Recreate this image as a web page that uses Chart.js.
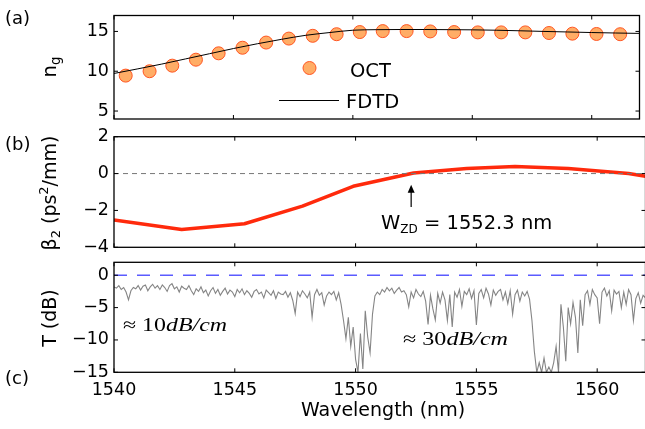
<!DOCTYPE html>
<html>
<head>
<meta charset="utf-8">
<script src="https://cdn.jsdelivr.net/npm/chart.js@4"></script>
<style>
  html, body { margin: 0; padding: 0; background: #fff; }
  #wrap { position: relative; width: 645px; height: 429px; overflow: hidden; background: #fff; }
  #wrap canvas { position: absolute; left: 0; top: 0; }
</style>
</head>
<body>
<div id="wrap">
  <canvas id="panelA" width="647" height="429"></canvas>
  <canvas id="panelB" width="647" height="429"></canvas>
  <canvas id="panelC" width="647" height="429"></canvas>
</div>
<script>
// ---- shared axis ----
const wavelengthTicks = [1540, 1545, 1550, 1555, 1560];

// ---- (a) group index ----
const octWavelength = [1540.49, 1541.49, 1542.44, 1543.43, 1544.38, 1545.38, 1546.37, 1547.32, 1548.32,
  1549.32, 1550.29, 1551.25, 1552.25, 1553.24, 1554.24, 1555.23, 1556.21, 1557.22, 1558.21, 1559.19, 1560.20, 1561.19];
const octNg = [9.45, 10.0, 10.7, 11.45, 12.25, 12.95, 13.6, 14.1, 14.45,
  14.65, 14.92, 15.04, 15.04, 15.0, 14.92, 14.88, 14.88, 14.88, 14.8, 14.72, 14.68, 14.65];
const fdtdWavelength = [1540, 1541, 1542, 1543, 1544, 1545, 1546, 1547, 1548, 1549, 1550, 1551,
  1552, 1553, 1554, 1555, 1556, 1557, 1558, 1559, 1560, 1561, 1562];
const fdtdNg = [9.72, 10.3, 10.9, 11.55, 12.2, 12.85, 13.45, 14.0, 14.5, 14.85, 15.15, 15.22,
  15.24, 15.24, 15.22, 15.2, 15.15, 15.08, 15.0, 14.93, 14.86, 14.8, 14.75];
const ngTicks = [5, 10, 15];

// ---- (b) dispersion ----
const beta2Wavelength = [1540.0, 1542.8, 1545.4, 1547.8, 1549.9, 1552.4, 1554.6, 1556.6, 1558.8, 1561.3, 1562.0];
const beta2Values = [-2.52, -3.03, -2.72, -1.77, -0.69, 0.03, 0.27, 0.38, 0.27, 0.0, -0.15];
const beta2Ticks = [-4, -2, 0, 2];
const zeroDispersionWavelength = 1552.3;

// ---- (c) transmission ----
const transWavelength = [
  1540.0, 1540.1, 1540.2, 1540.3, 1540.4, 1540.5, 1540.6, 1540.7, 1540.8, 1540.9,
  1541.0, 1541.1, 1541.2, 1541.3, 1541.4, 1541.5, 1541.6, 1541.7, 1541.8, 1541.9,
  1542.0, 1542.1, 1542.2, 1542.3, 1542.4, 1542.5, 1542.6, 1542.7, 1542.8, 1542.9,
  1543.0, 1543.1, 1543.2, 1543.3, 1543.4, 1543.5, 1543.6, 1543.7, 1543.8, 1543.9,
  1544.0, 1544.1, 1544.2, 1544.3, 1544.4, 1544.5, 1544.6, 1544.7, 1544.8, 1544.9,
  1545.0, 1545.1, 1545.2, 1545.3, 1545.4, 1545.5, 1545.6, 1545.7, 1545.8, 1545.9,
  1546.0, 1546.1, 1546.2, 1546.3, 1546.4, 1546.5, 1546.6, 1546.7, 1546.8, 1546.9,
  1547.0, 1547.1, 1547.2, 1547.3, 1547.4, 1547.5, 1547.6, 1547.7, 1547.8, 1547.9,
  1548.0, 1548.1, 1548.2, 1548.3, 1548.4, 1548.5, 1548.6, 1548.7, 1548.8, 1548.9,
  1549.0, 1549.1, 1549.2, 1549.3, 1549.4, 1549.5, 1549.6, 1549.7, 1549.8, 1549.9,
  1550.0, 1550.1, 1550.2, 1550.3, 1550.4, 1550.5, 1550.6, 1550.7, 1550.8, 1550.9,
  1551.0, 1551.1, 1551.2, 1551.3, 1551.4, 1551.5, 1551.6, 1551.7, 1551.8, 1551.9,
  1552.0, 1552.1, 1552.2, 1552.3, 1552.4, 1552.5, 1552.6, 1552.7, 1552.8, 1552.9,
  1553.0, 1553.1, 1553.2, 1553.3, 1553.4, 1553.5, 1553.6, 1553.7, 1553.8, 1553.9,
  1554.0, 1554.1, 1554.2, 1554.3, 1554.4, 1554.5, 1554.6, 1554.7, 1554.8, 1554.9,
  1555.0, 1555.1, 1555.2, 1555.3, 1555.4, 1555.5, 1555.6, 1555.7, 1555.8, 1555.9,
  1556.0, 1556.1, 1556.2, 1556.3, 1556.4, 1556.5, 1556.6, 1556.7, 1556.8, 1556.9,
  1557.0, 1557.1, 1557.2, 1557.3, 1557.4, 1557.5, 1557.6, 1557.7, 1557.8, 1557.9,
  1558.0, 1558.1, 1558.2, 1558.3, 1558.4, 1558.5, 1558.6, 1558.7, 1558.8, 1558.9,
  1559.0, 1559.1, 1559.2, 1559.3, 1559.4, 1559.5, 1559.6, 1559.7, 1559.8, 1559.9,
  1560.0, 1560.1, 1560.2, 1560.3, 1560.4, 1560.5, 1560.6, 1560.7, 1560.8, 1560.9,
  1561.0, 1561.1, 1561.2, 1561.3, 1561.4, 1561.5, 1561.6, 1561.7, 1561.8, 1561.9,
  1562.0
];
const transDb = [
  -1.8, -2.0, -1.6, -2.2, -1.9, -2.6, -3.8, -2.4, -1.9, -2.1,
  -1.6, -2.3, -1.7, -1.5, -2.4, -1.8, -1.4, -2.0, -1.6, -2.2,
  -1.5, -1.9, -2.5, -1.6, -1.3, -2.1, -1.8, -2.6, -1.7, -2.0,
  -2.2, -1.6, -2.4, -3.0, -2.1, -2.5, -1.8, -2.7, -2.3, -3.2,
  -2.4, -1.9, -2.8, -2.2, -3.1, -2.5, -2.0, -2.9, -2.3, -2.6,
  -3.3, -2.2, -2.7, -2.1, -3.0, -2.4, -2.8, -3.4, -2.5, -2.2,
  -2.9, -2.6, -3.5, -2.3, -2.7, -3.1, -2.4, -3.6, -2.6, -2.9,
  -3.0, -2.5, -3.4, -2.7, -3.9, -5.9, -2.6, -3.3, -2.4, -2.9,
  -3.5, -2.6, -6.5, -3.0, -2.2, -3.1, -2.7, -4.6, -3.2, -2.6,
  -3.0, -2.5, -3.8, -2.7, -4.5, -7.0, -9.8, -6.5, -11.0, -8.0,
  -13.0, -15.0, -9.0, -14.5, -5.5, -9.5, -12.0, -6.0, -3.2, -2.6,
  -3.0, -2.2, -2.6, -1.9, -2.4, -2.0, -2.8, -2.3, -1.9, -2.6,
  -2.4, -3.0, -4.9, -2.6, -3.5, -2.2, -2.9, -3.3, -2.5, -4.0,
  -7.6, -3.1, -5.2, -6.9, -2.8, -4.3, -2.6, -3.8, -7.0, -3.0,
  -8.0, -2.6, -3.4, -2.2, -4.8, -2.5, -3.0, -2.1, -3.6, -2.4,
  -7.7, -2.8, -2.2, -3.5, -2.0, -2.9, -4.6, -2.3, -3.1, -2.5,
  -2.2, -3.8, -2.6, -4.4, -2.4, -6.0, -3.0, -2.3, -4.0, -2.6,
  -3.2, -2.5, -3.7, -7.0, -11.8, -15.0, -13.5, -15.0, -12.8, -15.0,
  -14.2, -15.0, -13.5, -11.0, -15.0, -4.5, -8.0, -13.3, -5.0, -7.5,
  -4.2, -6.5, -12.0, -3.8, -7.8, -3.0, -2.4, -4.5, -2.2, -3.0,
  -3.5, -7.5, -2.6, -2.0, -3.2, -2.4, -5.5, -2.3, -2.9, -2.5,
  -5.0, -2.6, -4.5, -2.2, -3.0, -7.0, -3.6, -2.7, -4.3, -3.1,
  -3.5
];
const transTicks = [-15, -10, -5, 0];

// ---- helpers ----
const SANS = '"DejaVu Sans", sans-serif';
const MINUS = '\u2212';
const fmtTick = v => (v < 0 ? MINUS + Math.abs(v) : String(v));
const pts = (xs, ys) => xs.map((x, i) => ({ x, y: ys[i] }));

// Text runs with individual size / vertical shift (for sub- and superscripts).
function runWidth(ctx, parts) {
  let w = 0;
  parts.forEach(p => { ctx.font = p.font; w += ctx.measureText(p.t).width; });
  return w;
}
function drawRuns(ctx, x, y, parts, opts = {}) {
  ctx.save();
  ctx.fillStyle = '#000';
  ctx.textBaseline = 'alphabetic';
  ctx.textAlign = 'left';
  const total = runWidth(ctx, parts);
  ctx.translate(x, y);
  if (opts.rotate) ctx.rotate(-Math.PI / 2);
  if (opts.scaleX) ctx.scale(opts.scaleX, 1);
  let u = opts.center ? -total / 2 : 0;
  parts.forEach(p => {
    ctx.font = p.font;
    ctx.fillText(p.t, u, p.dy || 0);
    u += ctx.measureText(p.t).width;
  });
  ctx.restore();
}

// Frame plus inward-pointing ticks on all four sides.
function frameTicks(yTicks) {
  return {
    id: 'frameTicks',
    afterDatasetsDraw(chart) {
      const { ctx, chartArea: a } = chart;
      const xs = chart.scales.x, ys = chart.scales.y;
      ctx.save();
      ctx.strokeStyle = '#000';
      ctx.lineWidth = 1;
      ctx.beginPath();
      wavelengthTicks.forEach(v => {
        const px = xs.getPixelForValue(v);
        ctx.moveTo(px, a.top); ctx.lineTo(px, a.top + 4);
        ctx.moveTo(px, a.bottom); ctx.lineTo(px, a.bottom - 4);
      });
      yTicks.forEach(v => {
        const py = ys.getPixelForValue(v);
        ctx.moveTo(a.left, py); ctx.lineTo(a.left + 4, py);
        ctx.moveTo(a.right, py); ctx.lineTo(a.right - 4, py);
      });
      ctx.stroke();
      ctx.lineWidth = 1.3;
      ctx.strokeRect(a.left, a.top, a.right - a.left, a.bottom - a.top);
      ctx.restore();
    }
  };
}

function yScale(min, max, tickValues) {
  return {
    type: 'linear', min, max,
    afterFit(s) { s.width = 114; },
    afterBuildTicks(s) { s.ticks = tickValues.map(v => ({ value: v })); },
    grid: { display: false, drawTicks: false },
    border: { display: false },
    ticks: { font: { family: SANS, size: 17.5 }, color: '#000', padding: 5, callback: fmtTick }
  };
}

function baseOptions(padTop, padBottom, yTicks, yMin, yMax, xShown) {
  return {
    responsive: false, animation: false, devicePixelRatio: 1,
    layout: { padding: { top: padTop, bottom: padBottom, left: 0, right: 1.5 } },
    plugins: { legend: { display: false }, tooltip: { enabled: false } },
    scales: {
      x: xShown ? {
        type: 'linear', min: 1540, max: 1562,
        afterFit(s) { s.height = 56.7; },
        afterBuildTicks(s) { s.ticks = wavelengthTicks.map(v => ({ value: v })); },
        grid: { display: false, drawTicks: false },
        border: { display: false },
        ticks: { font: { family: SANS, size: 17.5 }, color: '#000', padding: 8, maxRotation: 0,
          callback: v => String(v) }
      } : { type: 'linear', min: 1540, max: 1562, display: false },
      y: yScale(yMin, yMax, yTicks)
    }
  };
}

// ---- (a) ----
const octFill = '#ffad66', octEdge = '#ff5522';
new Chart(document.getElementById('panelA'), {
  type: 'line',
  data: {
    datasets: [
      { label: 'FDTD', data: pts(fdtdWavelength, fdtdNg), borderColor: '#000', borderWidth: 1,
        pointRadius: 0, cubicInterpolationMode: 'monotone' },
      { label: 'OCT', data: pts(octWavelength, octNg), showLine: false, pointRadius: 6.5,
        pointBackgroundColor: octFill, pointBorderColor: octEdge, pointBorderWidth: 1 }
    ]
  },
  options: baseOptions(8.5, 429 - 119, ngTicks, 4, 17, false),
  plugins: [frameTicks(ngTicks), {
    id: 'panelAText',
    afterDraw(chart) {
      const ctx = chart.ctx;
      // legend
      ctx.save();
      ctx.beginPath();
      ctx.arc(309.5, 68, 6.5, 0, Math.PI * 2);
      ctx.fillStyle = octFill; ctx.fill();
      ctx.strokeStyle = octEdge; ctx.lineWidth = 1; ctx.stroke();
      ctx.beginPath();
      ctx.moveTo(279, 100.5); ctx.lineTo(339, 100.5);
      ctx.strokeStyle = '#000'; ctx.stroke();
      ctx.restore();
      drawRuns(ctx, 350, 76.5, [{ t: 'OCT', font: '19.5px ' + SANS }]);
      drawRuns(ctx, 346, 108, [{ t: 'FDTD', font: '19.5px ' + SANS }]);
      // panel label and axis title
      drawRuns(ctx, 5, 24, [{ t: '(a)', font: '18px ' + SANS }]);
      drawRuns(ctx, 55.5, 67, [
        { t: 'n', font: '19.5px ' + SANS },
        { t: 'g', font: '13.5px ' + SANS, dy: 4 }
      ], { rotate: true, center: true });
    }
  }]
});

// ---- (b) ----
new Chart(document.getElementById('panelB'), {
  type: 'line',
  data: {
    datasets: [
      { label: 'zero', data: pts([1540, 1562], [0, 0]), borderColor: '#777', borderWidth: 1,
        borderDash: [5, 4], pointRadius: 0 },
      { label: 'beta2', data: pts(beta2Wavelength, beta2Values), borderColor: '#ff2a0c', borderWidth: 3.5,
        pointRadius: 0, borderJoinStyle: 'round' }
    ]
  },
  options: baseOptions(136.7, 429 - 247.3, beta2Ticks, -4, 2, false),
  plugins: [frameTicks(beta2Ticks), {
    id: 'panelBText',
    afterDraw(chart) {
      const ctx = chart.ctx;
      const xs = chart.scales.x, ys = chart.scales.y;
      // arrow marking the zero-dispersion wavelength
      const ax = xs.getPixelForValue(zeroDispersionWavelength);
      const tipY = ys.getPixelForValue(-0.6), tailY = ys.getPixelForValue(-1.82);
      ctx.save();
      ctx.strokeStyle = '#000'; ctx.fillStyle = '#000'; ctx.lineWidth = 1.2;
      ctx.beginPath(); ctx.moveTo(ax, tailY); ctx.lineTo(ax, tipY + 5); ctx.stroke();
      ctx.beginPath(); ctx.moveTo(ax, tipY); ctx.lineTo(ax - 3.5, tipY + 8); ctx.lineTo(ax + 3.5, tipY + 8);
      ctx.closePath(); ctx.fill();
      ctx.restore();
      drawRuns(ctx, 381, 229, [
        { t: 'W', font: '19.5px ' + SANS },
        { t: 'ZD', font: '12px ' + SANS, dy: 4 },
        { t: ' = ' + zeroDispersionWavelength.toFixed(1) + ' nm', font: '19.5px ' + SANS }
      ]);
      drawRuns(ctx, 5, 150, [{ t: '(b)', font: '18px ' + SANS }]);
      drawRuns(ctx, 56, 193, [
        { t: '\u03b2', font: '19px ' + SANS },
        { t: '2', font: '13px ' + SANS, dy: 4 },
        { t: ' (ps', font: '19px ' + SANS },
        { t: '2', font: '13px ' + SANS, dy: -8 },
        { t: '/mm)', font: '19px ' + SANS }
      ], { rotate: true, center: true });
    }
  }]
});

// ---- (c) ----
new Chart(document.getElementById('panelC'), {
  type: 'line',
  data: {
    datasets: [
      { label: 'reference', data: pts([1540, 1562], [0, 0]), borderColor: '#5b5bff', borderWidth: 1.4,
        borderDash: [13, 10], pointRadius: 0 },
      { label: 'T', data: pts(transWavelength, transDb), borderColor: '#858585', borderWidth: 1.1,
        pointRadius: 0 }
    ]
  },
  options: baseOptions(262.3, 0, transTicks, -15, 2, true),
  plugins: [frameTicks(transTicks), {
    id: 'panelCText',
    afterDraw(chart) {
      const ctx = chart.ctx;
      const serif = '"Liberation Serif", serif';
      const mathRuns = n => [
        { t: '\u2248 ', font: '19px ' + serif },
        { t: n, font: '19px ' + serif },
        { t: 'dB/cm', font: 'italic 19px ' + serif }
      ];
      const r10 = mathRuns('10'), r30 = mathRuns('30');
      drawRuns(ctx, 123, 331, r10, { scaleX: 104 / runWidth(ctx, r10) });
      drawRuns(ctx, 403, 345, r30, { scaleX: 105 / runWidth(ctx, r30) });
      drawRuns(ctx, 5, 384, [{ t: '(c)', font: '18px ' + SANS }]);
      drawRuns(ctx, 55.5, 318, [{ t: 'T (dB)', font: '19px ' + SANS }], { rotate: true, center: true });
      drawRuns(ctx, 383, 416, [{ t: 'Wavelength (nm)', font: '19px ' + SANS }], { center: true });
    }
  }]
});
</script>
</body>
</html>
